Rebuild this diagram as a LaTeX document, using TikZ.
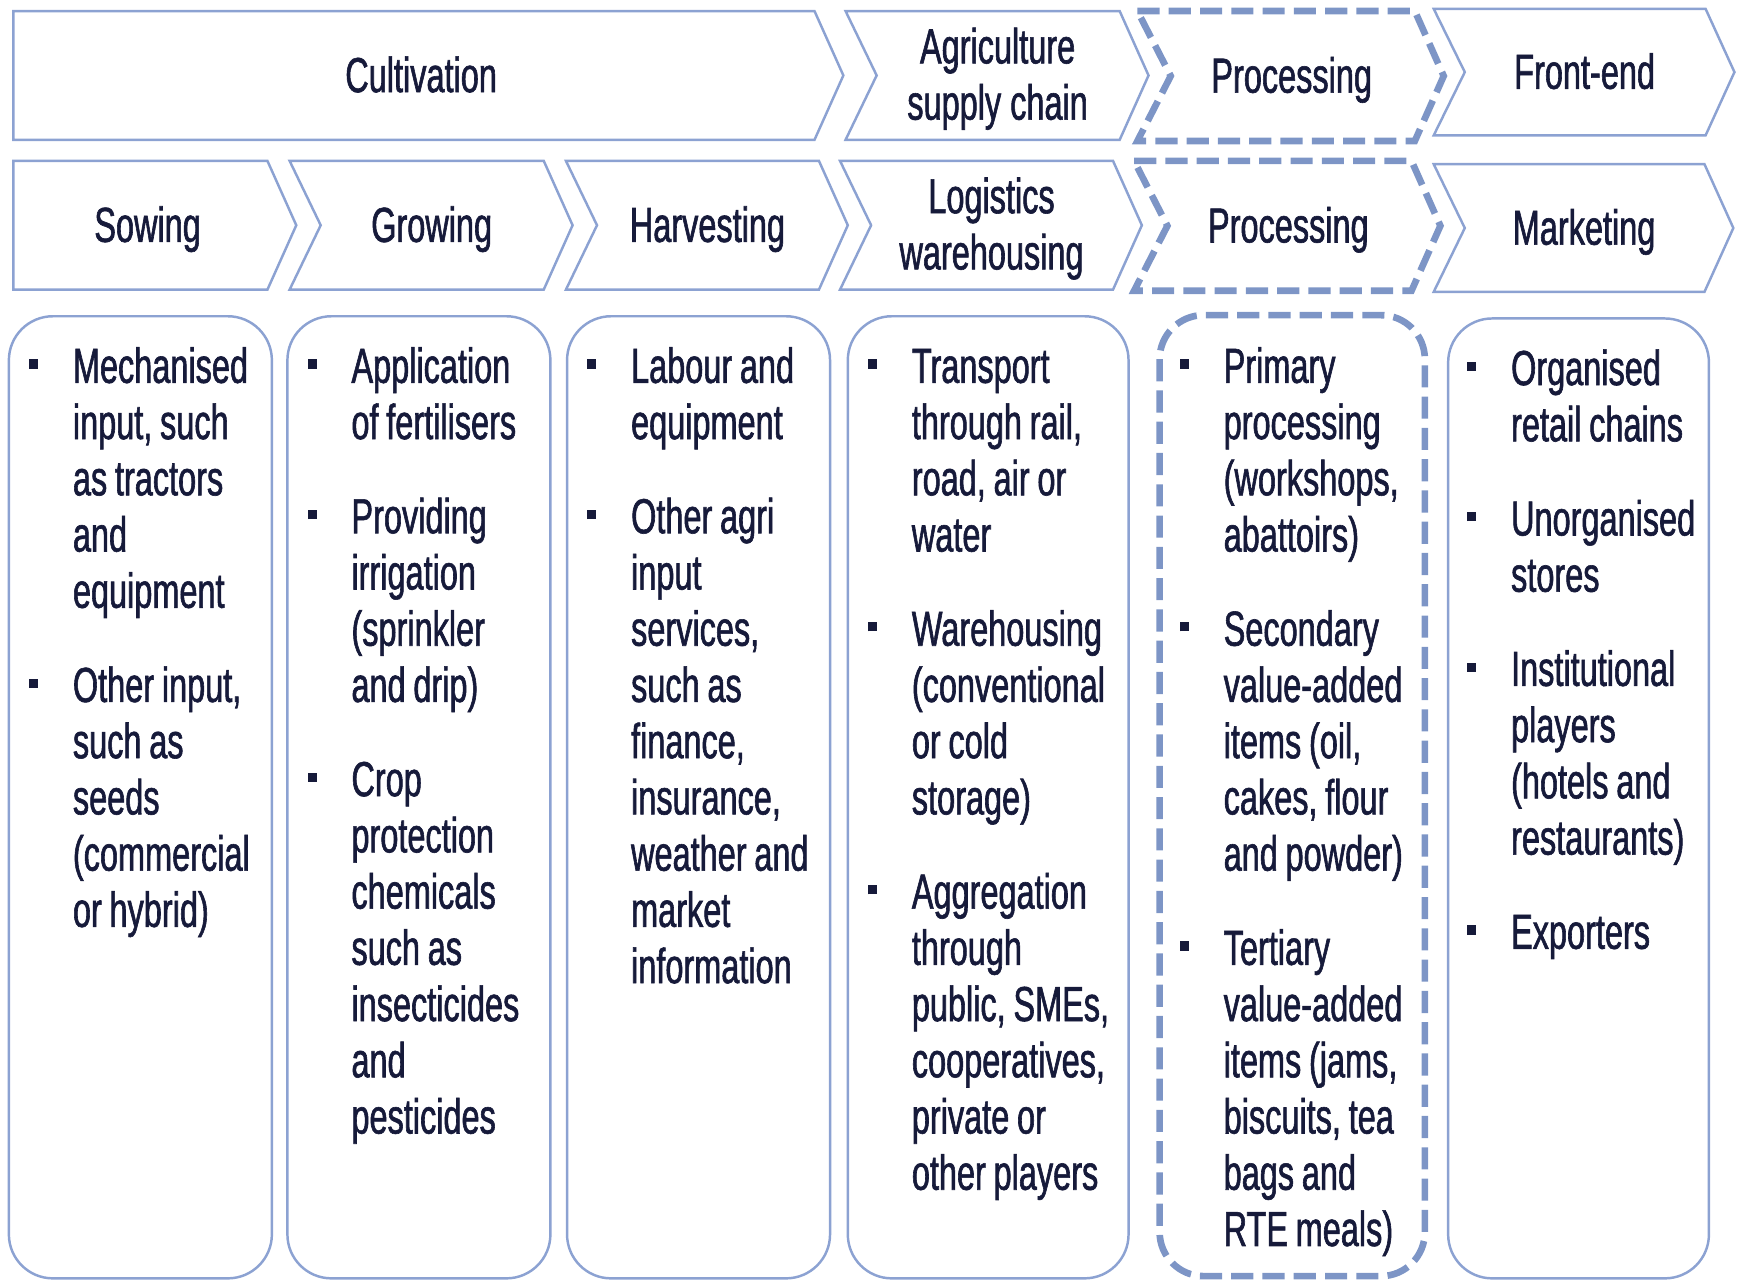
\documentclass[tikz,border=0pt]{standalone}
\usepackage{fontspec}
\setmainfont[FakeStretch=0.66, FakeBold=1.2]{Liberation Sans}
\usetikzlibrary{calc}
\definecolor{chainblue}{RGB}{140,162,210}
\definecolor{procblue}{RGB}{125,149,198}
\definecolor{inknavy}{RGB}{22,26,58}

\newlength{\bulind}\setlength{\bulind}{12.5pt}
\newcommand{\bul}{\noindent\spaceskip=2.2pt plus 0.5pt\relax\xspaceskip=2.5pt plus 0.5pt\relax
  \hangindent=\bulind\hangafter=1\makebox[\bulind][l]{\raisebox{4.05pt}{\rule{2.6pt}{2.6pt}}}}
\newcommand{\nbul}{\par\vspace{10.8pt}\bul}
% chevron: [notch depth] style, name, left x, right x, top y, bottom y
\newcommand{\chev}[7][28]{%
  \draw[#2] (#4,#6) -- (#5,#6) -- ({#5+26},{(#6+#7)/2}) -- (#5,#7) -- (#4,#7) -- ({#4+#1},{(#6+#7)/2}) -- cycle;
  \coordinate (#3) at ({(#4+#5)/2+(#1+26)/4},{(#6+#7)/2});}

\tikzset{
    chevbox/.style={draw=chainblue, line width=0.7pt, line join=miter},
    procchev/.style={draw=procblue, line width=1.9pt, dash pattern=on 6.3pt off 2.6pt},
    colbox/.style={draw=chainblue, line width=0.7pt, rounded corners=4.4mm},
    proccol/.style={draw=procblue, line width=1.9pt, dash pattern=on 6.3pt off 2.6pt, rounded corners=4.4mm},
    headtxt/.style={text=inknavy, font=\fontsize{14pt}{16pt}\selectfont, inner sep=0pt, align=center},
    listtxt/.style={text=inknavy, font=\fontsize{14pt}{16pt}\selectfont, inner sep=0pt, text width=30mm, anchor=base west}
}

\begin{document}
\begin{tikzpicture}[x=0.11097mm, y=-0.11097mm]
    \useasboundingbox (0,0) rectangle (1568,1154);

    % top row
    \chev[0]{chevbox}{cult}{12}{734}{10}{126}
    \chev{chevbox}{agri}{762}{1009}{10}{126}
    \chev[30]{procchev}{procA}{1025}{1275}{10}{127}
    \chev{chevbox}{front}{1292}{1537}{8}{122}
    \node[headtxt, anchor=base] (cultlbl) at ($(cult)+(0,15)$) {Cultivation};
    \node[headtxt] (agrilbl) at ($(agri)+(0,3)$) {Agriculture\\supply chain};
    \node[headtxt, anchor=base] (procAlbl) at ($(procA)+(0,15)$) {Processing};
    \node[headtxt, anchor=base] (frontlbl) at ($(front)+(0,15)$) {Front-end};

    % second row
    \chev[0]{chevbox}{sow}{12}{241}{145}{261}
    \chev{chevbox}{grow}{261}{490}{145}{261}
    \chev{chevbox}{harv}{510}{738}{145}{261}
    \chev{chevbox}{logi}{757}{1003}{145}{261}
    \chev[30]{procchev}{procB}{1022}{1272}{145}{262}
    \chev{chevbox}{mark}{1292}{1536}{148}{263}
    \node[headtxt, anchor=base] (sowlbl) at ($(sow)+(0,15)$) {Sowing};
    \node[headtxt, anchor=base] (growlbl) at ($(grow)+(0,15)$) {Growing};
    \node[headtxt, anchor=base] (harvlbl) at ($(harv)+(0,15)$) {Harvesting};
    \node[headtxt] (logilbl) at ($(logi)+(0,3)$) {Logistics\\warehousing};
    \node[headtxt, anchor=base] (procBlbl) at ($(procB)+(0,15)$) {Processing};
    \node[headtxt, anchor=base] (marklbl) at ($(mark)+(0,15)$) {Marketing};

    % activity columns
    \draw[colbox] (8,285) rectangle (245,1152);
    \draw[colbox] (259,285) rectangle (496,1152);
    \draw[colbox] (511,285) rectangle (748,1152);
    \draw[colbox] (764,285) rectangle (1017,1152);
    \draw[proccol] (1045,284) rectangle (1284,1150);
    \draw[colbox] (1305,287) rectangle (1540,1152);

    \node[listtxt] (sowlist) at (25.5,345) {\bul Mechanised\newline input, such\newline as tractors\newline and\newline equipment
        \nbul Other input,\newline such as\newline seeds\newline (commercial\newline or hybrid)\par};
    \node[listtxt] (growlist) at (276.5,345) {\bul Application\newline of fertilisers
        \nbul Providing\newline irrigation\newline (sprinkler\newline and drip)
        \nbul Crop\newline protection\newline chemicals\newline such as\newline insecticides\newline and\newline pesticides\par};
    \node[listtxt] (harvlist) at (528.5,345) {\bul Labour and\newline equipment
        \nbul Other agri\newline input\newline services,\newline such as\newline finance,\newline insurance,\newline weather and\newline market\newline information\par};
    \node[listtxt] (logilist) at (781.5,345) {\bul Transport\newline through rail,\newline road, air or\newline water
        \nbul Warehousing\newline (conventional\newline or cold\newline storage)
        \nbul Aggregation\newline through\newline public, SMEs,\newline cooperatives,\newline private or\newline other players\par};
    \node[listtxt] (proclist) at (1062.5,345) {\bul Primary\newline processing\newline (workshops,\newline abattoirs)
        \nbul Secondary\newline value-added\newline items (oil,\newline cakes, flour\newline and powder)
        \nbul Tertiary\newline value-added\newline items (jams,\newline biscuits, tea\newline bags and\newline RTE meals)\par};
    \node[listtxt] (marklist) at (1321.5,347) {\bul Organised\newline retail chains
        \nbul Unorganised\newline stores
        \nbul Institutional\newline players\newline (hotels and\newline restaurants)
        \nbul Exporters\par};
\end{tikzpicture}
\end{document}
